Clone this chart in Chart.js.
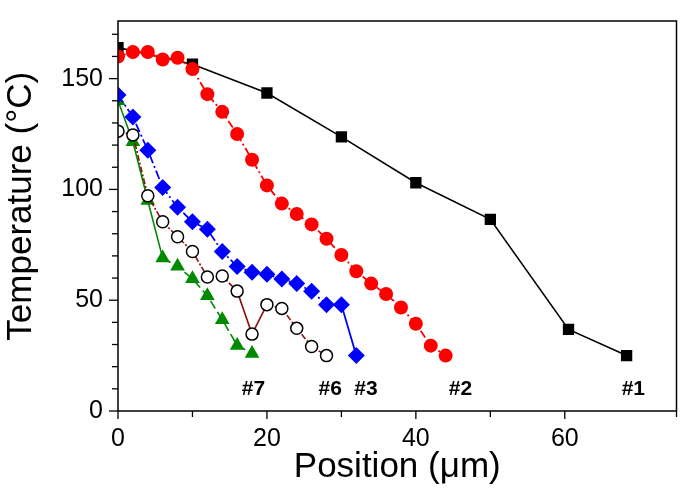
<!DOCTYPE html>
<html>
<head>
<meta charset="utf-8">
<script src="https://cdn.jsdelivr.net/npm/chart.js@4.4.1/dist/chart.umd.min.js"></script>
<style>
  html, body { margin: 0; padding: 0; background: #fff; }
  #wrap { width: 685px; height: 492px; position: relative; }
</style>
</head>
<body>
<div id="wrap"><canvas id="tempChart"></canvas></div>
<script>
// Sample #1 (black squares)
const pos1 = [0, 10, 20, 30, 40, 50, 60.5, 68.3];
const temp1 = [164, 156.5, 143.5, 123.7, 103, 86.5, 36.8, 25];

// Sample #2 (red circles)
const pos2 = [0, 2, 4, 6, 8, 10, 12, 14, 16, 18, 20, 22, 24, 26, 28, 30, 32, 34, 36, 38, 40, 42, 44];
const temp2 = [160, 162, 162, 158.6, 159.4, 154.3, 143, 135, 125, 113.4, 101.8, 93.6, 88.9, 84.2, 77.7, 70.4, 63.1, 57.5, 52.8, 46.7, 39.4, 29.5, 25];

// Sample #3 (blue diamonds)
const pos3 = [0, 2, 4, 6, 8, 10, 12, 14, 16, 18, 20, 22, 24, 26, 28, 30, 32];
const temp3 = [142.6, 132.7, 117.7, 100.9, 91.9, 85.4, 82, 72, 65.2, 62.6, 61.7, 59.6, 57.5, 54, 48, 48, 25];

// Sample #6 (open circles)
const pos6 = [0, 2, 4, 6, 8, 10, 12, 14, 16, 18, 20, 22, 24, 26, 28];
const temp6 = [126.3, 124.6, 97.1, 85.4, 78.6, 72, 60.5, 60.9, 54.1, 34.7, 48, 46.3, 37.3, 29.1, 25];

// Sample #7 (green triangles)
const pos7 = [0, 2, 4, 6, 8, 10, 12, 14, 16, 18];
const temp7 = [140, 121.5, 95, 69, 65.3, 59.7, 52, 41.2, 29.6, 26];

// Curve tags under the curves
const tagNames = ['#7', '#6', '#3', '#2', '#1'];
const tagPos = [18.2, 28.5, 33.3, 46, 69.2];
const tagTemp = [10, 10, 10, 10, 10];

const toPoints = (xs, ys) => xs.map((x, i) => ({ x: x, y: ys[i] }));

// solid segments for a given set of segment end indices
const dashExcept = (solidIdx, dash) => ({
    borderDash: ctx => solidIdx.includes(ctx.p1DataIndex) ? [] : dash
});

// Frame, minor/major ticks and curve tags
const framePlugin = {
    id: 'frame',
    afterDraw(chart) {
        const { ctx, chartArea: a, scales } = chart;
        ctx.save();
        ctx.strokeStyle = '#000';
        ctx.lineWidth = 1.5;
        ctx.strokeRect(a.left, a.top, a.right - a.left, a.bottom - a.top);

        // ticks, outward
        ctx.lineWidth = 1.3;
        scales.x.ticks.forEach(t => {
            const px = scales.x.getPixelForValue(t.value);
            const len = t.value % 20 === 0 ? 8 : 6;
            ctx.beginPath();
            ctx.moveTo(px, a.bottom);
            ctx.lineTo(px, a.bottom + len);
            ctx.stroke();
        });
        scales.y.ticks.forEach(t => {
            const py = scales.y.getPixelForValue(t.value);
            const len = t.value % 50 === 0 ? 9 : 6;
            ctx.beginPath();
            ctx.moveTo(a.left, py);
            ctx.lineTo(a.left - len, py);
            ctx.stroke();
        });

        // tags
        ctx.fillStyle = '#000';
        ctx.font = 'bold 21px "Liberation Sans", Arial, sans-serif';
        ctx.textAlign = 'center';
        ctx.textBaseline = 'middle';
        tagNames.forEach((name, i) => {
            ctx.fillText(name, scales.x.getPixelForValue(tagPos[i]), scales.y.getPixelForValue(tagTemp[i]));
        });
        ctx.restore();
    }
};

const fontFamily = '"Liberation Sans", Arial, sans-serif';

new Chart(document.getElementById('tempChart'), {
    type: 'line',
    data: {
        datasets: [
            {
                label: '#2',
                data: toPoints(pos2, temp2),
                borderColor: '#ff0000',
                backgroundColor: '#ff0000',
                borderWidth: 1.8,
                borderDash: [8, 3, 2, 3],
                pointStyle: 'circle',
                pointRadius: 7,
                pointBorderWidth: 0
            },
            {
                label: '#1',
                data: toPoints(pos1, temp1),
                borderColor: '#000',
                backgroundColor: '#000',
                borderWidth: 1.6,
                pointStyle: 'rect',
                pointRadius: 8,
                pointBorderWidth: 0
            },
            {
                label: '#3',
                data: toPoints(pos3, temp3),
                borderColor: '#0000ff',
                backgroundColor: '#0000ff',
                borderWidth: 1.8,
                borderDash: [9, 3, 2, 3],
                segment: dashExcept([16], [9, 3, 2, 3]),
                pointStyle: 'rectRot',
                pointRadius: 8.5,
                pointBorderWidth: 0
            },
            {
                label: '#6',
                data: toPoints(pos6, temp6),
                borderColor: '#8b1010',
                backgroundColor: '#ffffff',
                borderWidth: 1.6,
                borderDash: [6, 2, 2, 2],
                segment: dashExcept([9, 10], [6, 2, 2, 2]),
                pointStyle: 'circle',
                pointRadius: 6,
                pointBorderColor: '#000',
                pointBorderWidth: 1.5
            },
            {
                label: '#7',
                data: toPoints(pos7, temp7),
                borderColor: '#008a00',
                backgroundColor: '#008a00',
                borderWidth: 1.6,
                borderDash: [9, 4],
                segment: dashExcept([1, 2, 3], [9, 4]),
                pointStyle: 'triangle',
                pointRadius: 8.5,
                pointBorderWidth: 0
            }
        ]
    },
    options: {
        responsive: true,
        maintainAspectRatio: false,
        animation: false,
        layout: { padding: { top: 1, right: 4, left: 0, bottom: 0 } },
        plugins: {
            legend: { display: false },
            tooltip: { enabled: false }
        },
        scales: {
            x: {
                type: 'linear',
                min: 0,
                max: 75,
                grid: { display: true, drawOnChartArea: false, drawTicks: true, tickLength: 8, tickColor: 'rgba(0,0,0,0)' },
                border: { display: false },
                ticks: {
                    stepSize: 10,
                    autoSkip: false,
                    maxRotation: 0,
                    padding: 5,
                    color: '#000',
                    font: { family: fontFamily, size: 25 },
                    callback: v => (v % 20 === 0 ? v : '')
                },
                title: {
                    display: true,
                    text: 'Position (\u03BCm)',
                    color: '#000',
                    font: { family: fontFamily, size: 35 },
                    padding: { top: 0, bottom: 4 }
                },
                afterFit: scale => { scale.height = 81; }
            },
            y: {
                type: 'linear',
                min: 0,
                max: 176,
                grid: { display: true, drawOnChartArea: false, drawTicks: true, tickLength: 9, tickColor: 'rgba(0,0,0,0)' },
                border: { display: false },
                ticks: {
                    stepSize: 10,
                    includeBounds: false,
                    autoSkip: false,
                    padding: 6,
                    color: '#000',
                    font: { family: fontFamily, size: 25 },
                    callback: v => (v % 50 === 0 ? v : '')
                },
                title: {
                    display: true,
                    text: '  Temperature (\u00B0C)',
                    color: '#000',
                    font: { family: fontFamily, size: 35 },
                    padding: { top: 0, bottom: 4 }
                },
                afterFit: scale => { scale.width = 118; }
            }
        }
    },
    plugins: [framePlugin]
});
</script>
</body>
</html>
